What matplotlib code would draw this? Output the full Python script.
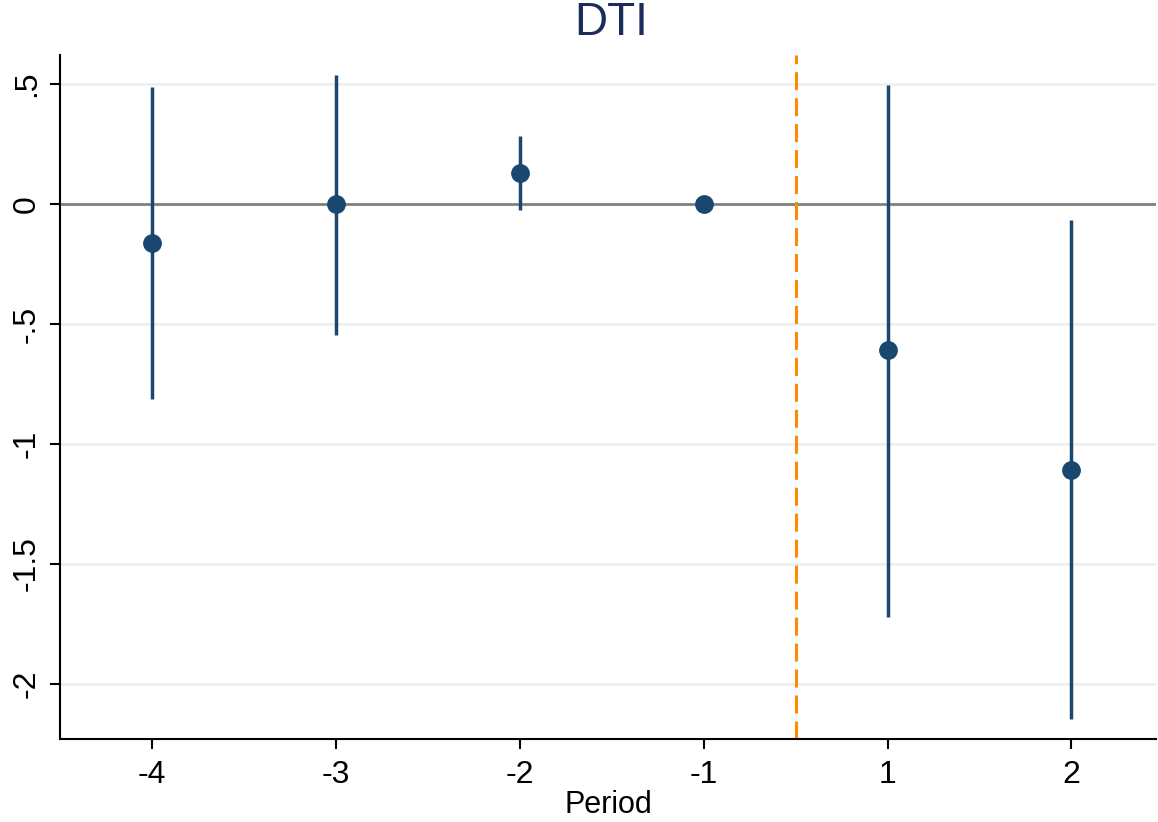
import matplotlib.pyplot as plt
import numpy as np

plt.rcParams['font.family'] = ['Liberation Sans', 'DejaVu Sans']

# event-study estimates for DTI
periods = ['-4', '-3', '-2', '-1', '1', '2']
coef = [-0.162, 0.0, 0.13, 0.0, -0.61, -1.108]
ci_low = [-0.812, -0.546, -0.025, np.nan, -1.72, -2.146]
ci_high = [0.488, 0.54, 0.283, np.nan, 0.495, -0.067]
yticks = [0.5, 0, -0.5, -1, -1.5, -2]
ytick_labels = ['.5', '0', '-.5', '-1', '-1.5', '-2']

navy = '#1a476f'
x = np.arange(1, len(periods) + 1)

fig = plt.figure(figsize=(11.58, 8.22), dpi=100)
ax = fig.add_axes([0.0518, 0.101, 0.9465, 0.832])

for y in yticks:
    if y != 0:
        ax.axhline(y, color='#eaf0f2', lw=1.8, zorder=0)
ax.axhline(0, color='#808080', lw=2, zorder=1)

ax.vlines(x, ci_low, ci_high, color=navy, lw=2.5, zorder=2)
ax.plot(x, coef, 'o', color=navy, ms=12.5, zorder=3)

ax.axvline(4.5, color='#ff8c00', lw=2.2, ls=(0, (5.9, 2.6)), zorder=2)

ax.set_xlim(0.5, 6.46)
ax.set_ylim(-2.229, 0.621)
ax.set_xticks(x)
ax.set_xticklabels(periods, fontsize=23)
ax.set_yticks(yticks)
ax.set_yticklabels(ytick_labels, fontsize=23, rotation=90, va='center')
ax.tick_params(axis='both', length=7, width=1.5, color='black')
ax.tick_params(axis='x', pad=8)
ax.tick_params(axis='y', pad=6)

for s in ['top', 'right']:
    ax.spines[s].set_visible(False)
for s in ['left', 'bottom']:
    ax.spines[s].set_linewidth(1.5)

ax.set_xlabel('Period', fontsize=22, labelpad=0)
fig.text(0.528, 0.972, 'DTI', fontsize=33, color='#1a2d5a', ha='center', va='center')

fig.savefig('out.png', dpi=100)
